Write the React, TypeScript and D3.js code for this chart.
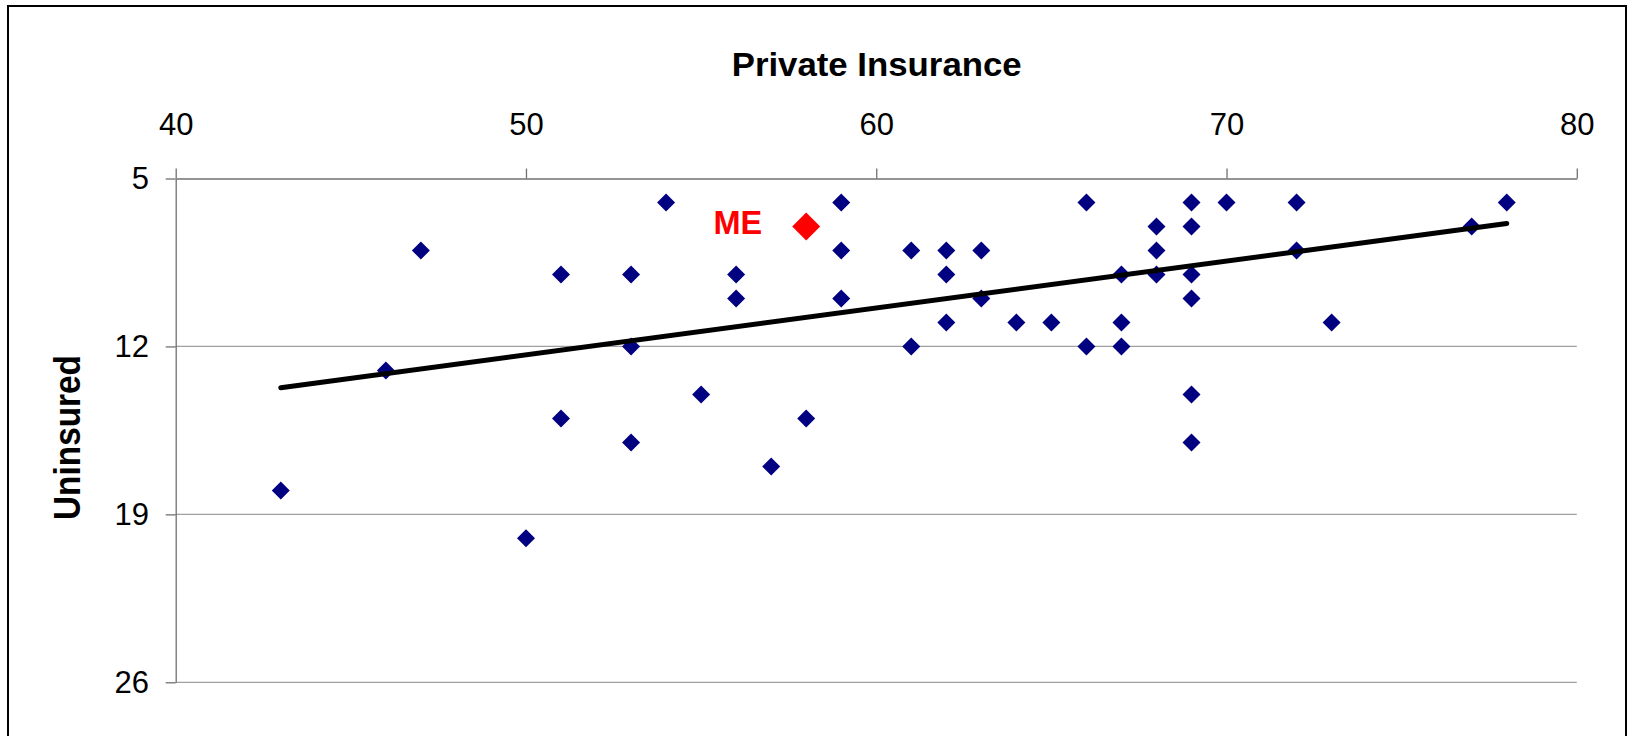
import React, { useEffect, useRef } from "react";
import * as d3 from "d3";

// ---- data ----
const xTicks = [40, 50, 60, 70, 80];
const yTicks = [5, 12, 19, 26];

const privateInsurance = [
  43, 46, 47, 50, 51, 51, 53, 53, 53, 54, 55, 56, 56, 57, 58,
  59, 59, 59, 61, 61, 62, 62, 62, 63, 63, 64, 65, 66, 66,
  67, 67, 67, 68, 68, 68, 69, 69, 69, 69, 69, 69, 70, 72, 72, 73, 77, 78,
];
const uninsured = [
  18, 13, 8, 20, 9, 15, 9, 12, 16, 6, 14, 9, 10, 17, 15,
  6, 8, 10, 8, 12, 8, 9, 11, 8, 10, 11, 11, 6, 12,
  9, 11, 12, 7, 8, 9, 6, 7, 9, 10, 14, 16, 6, 6, 8, 11, 7, 6,
];

const highlightLabels = ["ME"];
const highlightX = [58];
const highlightY = [7];

const trendX = [43, 78];
const trendY = [13.72, 6.88];

const xTitle = "Private Insurance";
const yTitle = "Uninsured";

const W = 1628;
const H = 736;
const FONT = "'Liberation Sans', Arial, Helvetica, sans-serif";

function diamond(cx: number, cy: number, h: number) {
  const p = d3.path();
  p.moveTo(cx, cy - h);
  p.lineTo(cx + h, cy);
  p.lineTo(cx, cy + h);
  p.lineTo(cx - h, cy);
  p.closePath();
  return p.toString();
}

export default function App() {
  const ref = useRef<SVGSVGElement | null>(null);

  useEffect(() => {
    const svg = d3.select(ref.current);
    svg.selectAll("*").remove();

    const left = 175.7, right = 1576.8, top = 178.5, bottom = 682.3;
    const x = d3.scaleLinear().domain([40, 80]).range([left, right]);
    const y = d3.scaleLinear().domain([5, 26]).range([top, bottom]);

    // outer border
    svg.append("rect")
      .attr("x", 8).attr("y", 6)
      .attr("width", 1618).attr("height", 800)
      .attr("fill", "white").attr("stroke", "#000").attr("stroke-width", 2);

    // gridlines
    svg.append("g")
      .selectAll("line")
      .data(yTicks.filter((t) => t !== 5))
      .join("line")
      .attr("x1", left).attr("x2", right)
      .attr("y1", (d) => y(d)).attr("y2", (d) => y(d))
      .attr("stroke", "#a0a0a0").attr("stroke-width", 1.2);

    // x axis (top)
    const gx = svg.append("g").attr("transform", `translate(0,${top})`)
      .call(d3.axisTop(x).tickValues(xTicks).tickSize(10).tickSizeOuter(0).tickPadding(33.5).tickFormat(d3.format("d")));
    gx.select(".domain").attr("stroke", "#707070").attr("stroke-width", 1.3);
    gx.selectAll(".tick line").attr("stroke", "#707070").attr("stroke-width", 1.3);
    gx.selectAll(".tick text").attr("font-family", FONT).attr("font-size", 31).attr("fill", "#000");

    // y axis (left)
    const gy = svg.append("g").attr("transform", `translate(${left},0)`)
      .call(d3.axisLeft(y).tickValues(yTicks).tickSize(10).tickSizeOuter(0).tickPadding(16.7).tickFormat(d3.format("d")));
    gy.select(".domain").attr("stroke", "#707070").attr("stroke-width", 1.3);
    gy.selectAll(".tick line").attr("stroke", "#707070").attr("stroke-width", 1.3);
    gy.selectAll(".tick text").attr("font-family", FONT).attr("font-size", 31).attr("fill", "#000");

    // axis titles
    svg.append("text")
      .attr("x", 876.7).attr("y", 75.7)
      .attr("text-anchor", "middle")
      .attr("font-family", FONT).attr("font-weight", "bold").attr("font-size", 32.5)
      .attr("textLength", 290).attr("lengthAdjust", "spacingAndGlyphs")
      .text(xTitle);

    svg.append("text")
      .attr("transform", `translate(80,437.5) rotate(-90)`)
      .attr("text-anchor", "middle")
      .attr("font-family", FONT).attr("font-weight", "bold").attr("font-size", 37)
      .attr("textLength", 165).attr("lengthAdjust", "spacingAndGlyphs")
      .text(yTitle);

    // points
    const pts = privateInsurance.map((px, i) => ({ px, py: uninsured[i] }));
    svg.append("g")
      .selectAll("path")
      .data(pts)
      .join("path")
      .attr("d", (d) => diamond(x(d.px), y(d.py), 9))
      .attr("fill", "#000080");

    // trend line
    const line = d3.line<number>().x((d) => x(d)).y((_, i) => y(trendY[i]));
    svg.append("path")
      .attr("d", line(trendX))
      .attr("fill", "none").attr("stroke", "#000").attr("stroke-width", 5)
      .attr("stroke-linecap", "round");

    // highlighted point
    const hl = highlightLabels.map((label, i) => ({ label, hx: highlightX[i], hy: highlightY[i] }));
    const gh = svg.append("g");
    gh.selectAll("path")
      .data(hl)
      .join("path")
      .attr("d", (d) => diamond(x(d.hx), y(d.hy), 14))
      .attr("fill", "#ff0000");
    gh.selectAll("text")
      .data(hl)
      .join("text")
      .attr("x", (d) => x(d.hx) - 44)
      .attr("y", (d) => y(d.hy) + 7.8)
      .attr("text-anchor", "end")
      .attr("font-family", FONT).attr("font-weight", "bold").attr("font-size", 32.5)
      .attr("fill", "#ff0000")
      .text((d) => d.label);
  }, []);

  return (
    <svg
      ref={ref}
      width={W}
      height={H}
      style={{ position: "absolute", left: 0, top: 0, display: "block" }}
    />
  );
}
